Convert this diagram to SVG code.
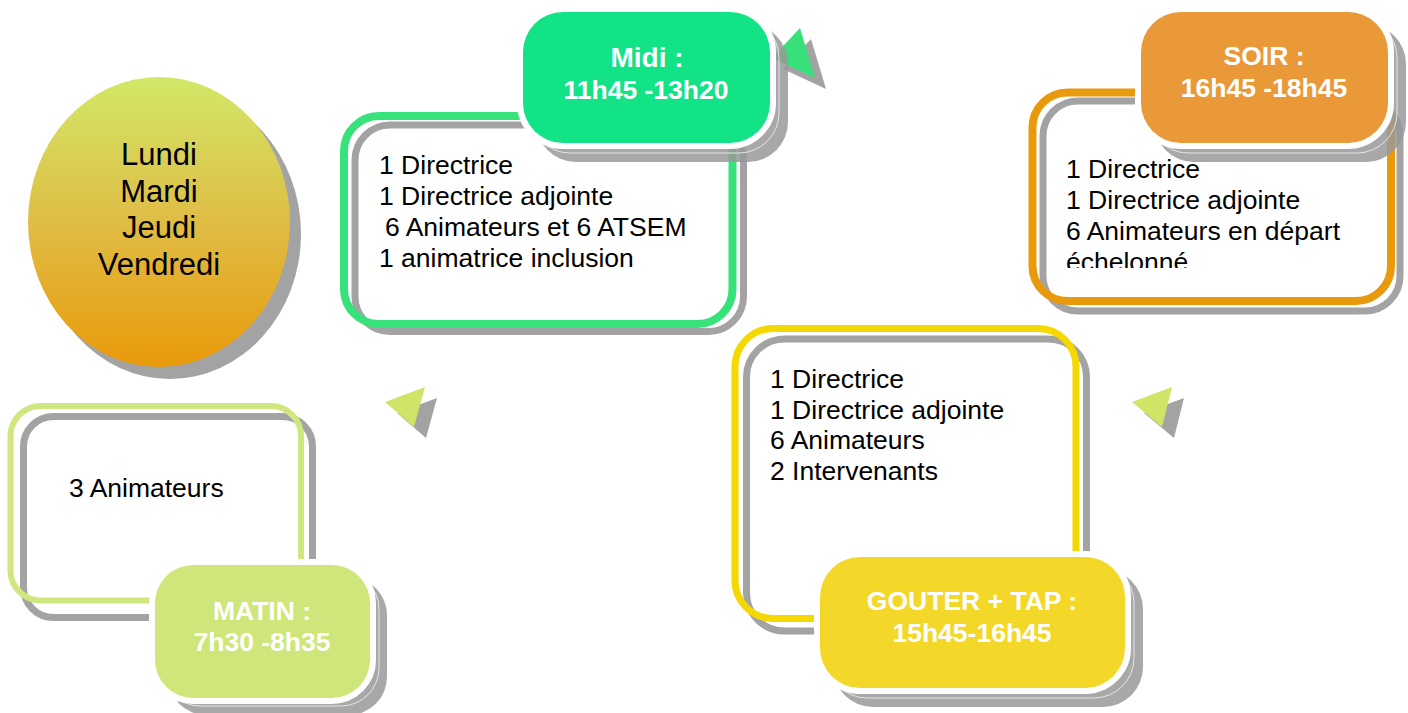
<svg xmlns="http://www.w3.org/2000/svg" width="1408" height="713" viewBox="0 0 1408 713">
<defs>
<linearGradient id="gEll" x1="0" y1="0" x2="0" y2="1">
<stop offset="0" stop-color="#d2e868"/>
<stop offset="0.5" stop-color="#dfbd45"/>
<stop offset="1" stop-color="#e99a0a"/>
</linearGradient>
<clipPath id="soirClip"><rect x="1040" y="100" width="345" height="168"/></clipPath>
</defs>
<style>
.body{font-family:"Liberation Sans",Arial,sans-serif;font-size:26.5px;fill:#000}
.lab{font-family:"Liberation Sans",Arial,sans-serif;font-size:26.5px;font-weight:bold;fill:#fff;text-anchor:middle}
.day{font-family:"Liberation Sans",Arial,sans-serif;font-size:31px;fill:#000;text-anchor:middle}
.halo{fill:none;stroke:#fff;stroke-width:15}
.sh{fill:none;stroke:#a3a3a3;stroke-width:7}
.lsh{fill:#999;opacity:.85}
.lline{fill:none;stroke:#fff;stroke-width:1;opacity:.7}
.lbox{stroke:#fff;stroke-width:12;paint-order:stroke}
.tsh{fill:#a3a3a3}
</style>
<rect width="1408" height="713" fill="#fff"/>

<g id="days">
<ellipse cx="170" cy="234" rx="131" ry="145" fill="#a3a3a3"/>
<ellipse cx="159" cy="222" rx="131" ry="145" fill="url(#gEll)"/>
<text class="day" x="159" y="165">Lundi</text>
<text class="day" x="159" y="202">Mardi</text>
<text class="day" x="159" y="238">Jeudi</text>
<text class="day" x="159" y="275">Vendredi</text>
</g>

<g id="connectors">
<polygon class="tsh" points="397,413 437,398 426,438"/>
<polygon points="385,402 425,387 414,427" fill="#d0e468"/>
<polygon class="tsh" points="1144,413 1184,398 1174,438"/>
<polygon points="1132,402 1172,387 1162,427" fill="#d0e468"/>
<polygon class="tsh" points="783,69 811,39 826,89"/>
<polygon points="772,58 800,28 815,78" fill="#38e07a"/>
</g>

<g id="matin">
<rect class="halo" x="23.5" y="416.5" width="289" height="201" rx="30"/>
<rect class="sh" x="23.5" y="416.5" width="289" height="201" rx="30"/>
<rect x="10.5" y="406" width="290.5" height="194.5" rx="30" fill="none" stroke="#d0e67f" stroke-width="6"/>
<text class="body" x="69" y="497">3 Animateurs</text>
<rect class="lsh" x="168" y="577" width="219" height="138" rx="38"/>
<rect class="lline" x="162" y="571" width="217" height="135" rx="38"/>
<rect class="lbox" x="155" y="565" width="215" height="133" rx="38" fill="#cfe67a"/>
<text class="lab" x="262" y="620">MATIN :</text>
<text class="lab" x="262" y="651">7h30 -8h35</text>
</g>

<g id="midi">
<rect class="halo" x="355" y="125" width="388.5" height="206.5" rx="35"/>
<rect class="sh" x="355" y="125" width="388.5" height="206.5" rx="35"/>
<rect x="344" y="116" width="388.5" height="208" rx="35" fill="none" stroke="#38e27a" stroke-width="8"/>
<text class="body" x="379" y="174">1 Directrice</text>
<text class="body" x="379" y="205">1 Directrice adjointe</text>
<text class="body" x="385" y="236">6 Animateurs et 6 ATSEM</text>
<text class="body" x="379" y="267">1 animatrice inclusion</text>
<rect class="lsh" x="536" y="24" width="252" height="138" rx="40"/>
<rect class="lline" x="530" y="18" width="249" height="135" rx="40"/>
<rect class="lbox" x="523" y="12" width="247" height="131" rx="40" fill="#12e386"/>
<text class="lab" x="647" y="67" style="font-size:28px">Midi :</text>
<text class="lab" x="646" y="99">11h45 -13h20</text>
</g>

<g id="soir">
<rect class="halo" x="1043" y="101" width="357" height="210" rx="35"/>
<rect class="sh" x="1043" y="101" width="357" height="210" rx="35"/>
<rect x="1032.5" y="92.5" width="358.5" height="208.5" rx="35" fill="none" stroke="#e99a0c" stroke-width="8"/>
<g clip-path="url(#soirClip)">
<text class="body" x="1066" y="178">1 Directrice</text>
<text class="body" x="1066" y="209">1 Directrice adjointe</text>
<text class="body" x="1066" y="240">6 Animateurs en départ</text>
<text class="body" x="1066" y="271">échelonné</text>
</g>
<rect class="lsh" x="1154" y="24" width="252" height="138" rx="40"/>
<rect class="lline" x="1148" y="18" width="249" height="135" rx="40"/>
<rect class="lbox" x="1141" y="12" width="247" height="131" rx="40" fill="#e99937"/>
<text class="lab" x="1264" y="65">SOIR :</text>
<text class="lab" x="1264" y="97">16h45 -18h45</text>
</g>

<g id="gouter">
<rect class="halo" x="746.5" y="339" width="340" height="292" rx="38"/>
<rect class="sh" x="746.5" y="339" width="340" height="292" rx="38"/>
<rect x="735" y="328.5" width="341" height="290" rx="38" fill="none" stroke="#f5d800" stroke-width="7"/>
<text class="body" x="770" y="388">1 Directrice</text>
<text class="body" x="770" y="419">1 Directrice adjointe</text>
<text class="body" x="770" y="449">6 Animateurs</text>
<text class="body" x="770" y="480">2 Intervenants</text>
<rect class="lsh" x="833" y="569" width="310" height="138" rx="40"/>
<rect class="lline" x="827" y="563" width="307" height="135" rx="40"/>
<rect class="lbox" x="820" y="557" width="305" height="131" rx="40" fill="#f4d829"/>
<text class="lab" x="972" y="610">GOUTER + TAP :</text>
<text class="lab" x="972" y="642">15h45-16h45</text>
</g>
</svg>
